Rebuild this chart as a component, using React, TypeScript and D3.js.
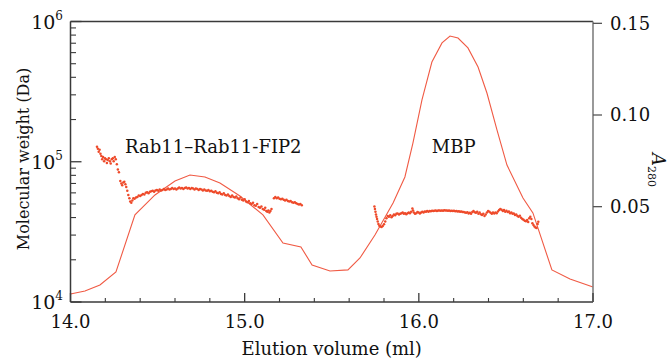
import * as d3 from "d3";

// elution volume (ml) / absorbance at 280 nm
const a280Volume = [14.0, 14.083, 14.169, 14.261, 14.37, 14.485, 14.6, 14.686, 14.772, 14.858, 14.973, 15.105, 15.22, 15.323, 15.387, 15.49, 15.593, 15.662, 15.748, 15.852, 15.92, 15.966, 16.018, 16.075, 16.133, 16.179, 16.225, 16.282, 16.34, 16.391, 16.449, 16.506, 16.598, 16.655, 16.764, 16.868, 17.0];
const a280Value = [0.0024, 0.004, 0.0073, 0.0144, 0.0455, 0.0564, 0.064, 0.0673, 0.0662, 0.0629, 0.0558, 0.0455, 0.0302, 0.028, 0.0182, 0.0149, 0.0155, 0.022, 0.0345, 0.052, 0.0662, 0.0847, 0.1082, 0.1289, 0.1393, 0.1431, 0.142, 0.1366, 0.1262, 0.112, 0.0918, 0.0727, 0.0547, 0.0466, 0.0155, 0.0105, 0.0062];

// [ml, kDa] molar mass points
const rabDots = [
  [14.152, 128], [14.157, 124], [14.162, 118], [14.167, 122], [14.172, 114], [14.177, 110], [14.182, 104], [14.187, 108], [14.193, 101], [14.198, 106], [14.203, 104], [14.209, 98], [14.214, 103], [14.22, 106], [14.226, 101], [14.231, 97], [14.237, 104], [14.243, 106], [14.248, 101], [14.254, 108], [14.26, 104], [14.266, 96], [14.272, 88], [14.278, 84],
  [14.286, 73], [14.292, 70], [14.297, 68], [14.303, 71], [14.309, 72], [14.315, 69], [14.32, 66], [14.326, 62], [14.332, 58], [14.338, 55], [14.343, 52], [14.349, 51], [14.355, 53], [14.361, 55],
  [14.368, 54.5], [14.376, 55.5], [14.384, 56], [14.392, 57.5], [14.4, 57], [14.408, 58], [14.416, 59], [14.424, 58.5], [14.432, 60], [14.44, 60.5], [14.448, 59.5], [14.456, 61], [14.464, 61.5], [14.472, 62], [14.48, 61], [14.488, 62.5], [14.496, 63], [14.504, 62], [14.512, 63.5], [14.52, 62.5], [14.528, 63], [14.536, 64], [14.544, 63], [14.552, 63.5], [14.56, 64.5], [14.568, 63.5], [14.576, 64], [14.584, 65], [14.592, 64], [14.6, 64.5], [14.608, 63.5], [14.616, 64.5], [14.624, 65.5], [14.632, 64.5], [14.64, 65], [14.648, 64], [14.656, 65], [14.664, 65.5], [14.672, 64.5], [14.68, 65], [14.688, 64], [14.696, 65], [14.704, 64.5], [14.712, 63.5], [14.72, 64.5], [14.728, 64], [14.736, 63], [14.744, 64], [14.752, 63.5], [14.76, 62.5], [14.768, 63.5], [14.776, 62.5], [14.784, 62], [14.792, 63], [14.8, 61.5], [14.808, 62], [14.816, 61], [14.824, 60.5], [14.832, 61.5], [14.84, 60], [14.848, 59.5], [14.856, 60.5], [14.864, 59], [14.872, 58.5], [14.88, 59.5], [14.888, 58], [14.896, 57.5], [14.904, 58.5], [14.912, 57], [14.92, 56], [14.928, 57.5], [14.936, 56], [14.944, 55.5], [14.952, 56.5], [14.96, 55], [14.968, 54], [14.976, 55.5], [14.984, 53.5], [14.992, 53], [15.0, 54], [15.008, 52], [15.016, 51.5], [15.024, 52.5], [15.032, 50.5], [15.04, 50], [15.048, 51], [15.056, 49], [15.064, 48.5], [15.072, 50], [15.08, 47.5], [15.088, 47], [15.096, 48], [15.104, 46], [15.112, 45.5], [15.118, 47], [15.124, 44.5], [15.13, 44], [15.136, 45], [15.142, 43.5], [15.148, 44.5], [15.154, 46],
  [15.168, 55], [15.176, 56], [15.184, 55], [15.192, 55.5], [15.2, 54.5], [15.208, 54], [15.216, 54.5], [15.224, 53.5], [15.232, 53], [15.24, 53.5], [15.248, 52.5], [15.256, 52], [15.264, 52.5], [15.272, 51.5], [15.28, 51], [15.288, 51.5], [15.296, 50.5], [15.304, 50], [15.312, 49.5], [15.32, 50], [15.328, 49],
];
const mbpDots = [
  [15.745, 48], [15.748, 46], [15.751, 44], [15.754, 42], [15.757, 40.5], [15.76, 39], [15.764, 37.5], [15.768, 36], [15.773, 35], [15.779, 34.5], [15.786, 34.3], [15.793, 34.8], [15.8, 35.8], [15.807, 37.5], [15.814, 39.5], [15.821, 41], [15.828, 40.5], [15.836, 41.5], [15.843, 40.2], [15.85, 41], [15.857, 42], [15.864, 41.5], [15.871, 42.5], [15.878, 42.8], [15.886, 42], [15.893, 42.5], [15.9, 43], [15.907, 43.5], [15.914, 42.5], [15.921, 43], [15.928, 42.2], [15.935, 43], [15.942, 43.5], [15.949, 43], [15.956, 44], [15.963, 46.5], [15.967, 45], [15.971, 43.5], [15.978, 42.5], [15.985, 43], [15.992, 43.8], [15.999, 43.5],
  [16.006, 42.8], [16.013, 43.5], [16.02, 44], [16.027, 43.5], [16.034, 44.2], [16.041, 44], [16.048, 44.5], [16.055, 44], [16.062, 44.6], [16.069, 44.3], [16.076, 44.8], [16.083, 44.5], [16.09, 44.8], [16.097, 45], [16.104, 44.6], [16.111, 44.9], [16.118, 45], [16.125, 44.7], [16.132, 45], [16.139, 44.8], [16.146, 45.1], [16.153, 44.9], [16.16, 45], [16.167, 44.7], [16.174, 44.9], [16.181, 44.6], [16.188, 44.8], [16.195, 44.5], [16.202, 44.7], [16.209, 44.4], [16.216, 44.6], [16.223, 44.2], [16.23, 44.4], [16.237, 44], [16.244, 44.2], [16.251, 43.8], [16.258, 43.9], [16.265, 43.5], [16.272, 43.2], [16.279, 43.6], [16.286, 42.8], [16.293, 43.2], [16.3, 42.5],
  [16.307, 43.8], [16.314, 44.5], [16.321, 43.6], [16.328, 43.3], [16.335, 44], [16.342, 42.5], [16.349, 43.5], [16.356, 42.2], [16.363, 41.8], [16.37, 42.5], [16.377, 41], [16.384, 42], [16.391, 43.5], [16.398, 44.5], [16.405, 44], [16.412, 43.2], [16.419, 42.5], [16.426, 43.5], [16.433, 42.8], [16.44, 43.5], [16.447, 43], [16.454, 44.2], [16.461, 45.2], [16.468, 46], [16.475, 45.5], [16.482, 44.6], [16.489, 45.2], [16.496, 44], [16.503, 44.8], [16.51, 43.8], [16.517, 44.2], [16.524, 43], [16.531, 43.5], [16.538, 42.5], [16.545, 42.8], [16.552, 41.8], [16.559, 42], [16.566, 41], [16.573, 40.6], [16.58, 41.2], [16.587, 39.8], [16.594, 39], [16.601, 38.6], [16.608, 38], [16.615, 37.6], [16.622, 38.4], [16.628, 37.2], [16.634, 39.5], [16.64, 40.5], [16.646, 39], [16.652, 36.5], [16.658, 35.4], [16.664, 34.5], [16.67, 34], [16.676, 33.7], [16.682, 36], [16.686, 37.4],
];

const xMajor = [14, 15, 16, 17];
const xMinor = [14.2, 14.4, 14.6, 14.8, 15.2, 15.4, 15.6, 15.8, 16.2, 16.4, 16.6, 16.8];
const mwMajor = [4, 5, 6]; // powers of ten
const aTicks = [0.05, 0.1, 0.15];
const peakLabels = [
  { text: "Rab11–Rab11-FIP2", v: 14.82 },
  { text: "MBP", v: 16.2 },
];

const font = "DejaVu Serif, serif";
const lineColor = "#f05a44";
const dotColor = "#ee4a2a";
const axisColor = "#3a3a3a";

const App = () => {
  const left = 70.5;
  const right = 593;
  const top = 21.5;
  const bottom = 302;

  const x = d3.scaleLinear().domain([14, 17]).range([left, right]);
  const yMw = d3.scaleLog().domain([1e4, 1e6]).range([bottom, top]);
  const yA = d3.scaleLinear().domain([-0.002, 0.151]).range([bottom, top]);

  const a280 = a280Volume.map((v, i) => [v, a280Value[i]]);
  const line = d3
    .line()
    .x((d) => x(d[0]))
    .y((d) => yA(d[1]))(a280);

  const mwMinor = yMw.ticks().filter((t) => !mwMajor.includes(Math.round(Math.log10(t) * 1000) / 1000));
  const txt = { fontFamily: font, fill: "#111" };

  return (
    <svg width={670} height={360} style={{ position: "absolute", left: 0, top: 0, background: "#fff", fontFamily: font }}>
      <path d={line} fill="none" stroke={lineColor} strokeWidth={1.1} />
      {rabDots.concat(mbpDots).map((d, i) => (
        <circle key={i} cx={x(d[0])} cy={yMw(d[1] * 1000)} r={1.25} fill={dotColor} />
      ))}

      {/* frame */}
      <line x1={left} x2={right} y1={top} y2={top} stroke={axisColor} strokeWidth={1.5} />
      <line x1={left} x2={left} y1={top} y2={bottom} stroke={axisColor} strokeWidth={1.5} />
      <line x1={left} x2={right} y1={bottom} y2={bottom} stroke={axisColor} strokeWidth={1.5} />
      <line x1={right} x2={right} y1={top} y2={bottom} stroke="#808080" strokeWidth={1.6} />

      {/* x axis */}
      {xMajor.map((t) => (
        <g key={t}>
          <line x1={x(t)} x2={x(t)} y1={bottom} y2={bottom - 9} stroke={axisColor} strokeWidth={1.3} />
          <text x={x(t)} y={328} textAnchor="middle" fontSize={18} style={txt}>
            {t.toFixed(1)}
          </text>
        </g>
      ))}
      {xMinor.map((t) => (
        <line key={t} x1={x(t)} x2={x(t)} y1={bottom} y2={bottom - 4} stroke={axisColor} strokeWidth={1.1} />
      ))}
      <text x={(left + right) / 2} y={355} textAnchor="middle" fontSize={18} style={txt}>
        Elution volume (ml)
      </text>

      {/* left log axis */}
      {mwMajor.map((p) => (
        <g key={p}>
          <line x1={left} x2={left + 11} y1={yMw(10 ** p)} y2={yMw(10 ** p)} stroke={axisColor} strokeWidth={1.3} />
          <text x={63} y={yMw(10 ** p) + 7} textAnchor="end" fontSize={19} style={txt}>
            10
            <tspan fontSize={12} dy={-9}>
              {p}
            </tspan>
          </text>
        </g>
      ))}
      {mwMinor.map((t) => (
        <line key={t} x1={left} x2={left + 5.5} y1={yMw(t)} y2={yMw(t)} stroke={axisColor} strokeWidth={1.1} />
      ))}
      <text transform={`translate(28.5,159) rotate(-90)`} textAnchor="middle" fontSize={16} style={txt}>
        Molecular weight (Da)
      </text>

      {/* right A280 axis */}
      {aTicks.map((t) => (
        <g key={t}>
          <line x1={right} x2={right + 9} y1={yA(t)} y2={yA(t)} stroke="#555" strokeWidth={1.3} />
          <text x={610} y={yA(t)} dy="0.35em" fontSize={18} style={txt}>
            {t.toFixed(2)}
          </text>
        </g>
      ))}
      <text transform={`translate(652,170) rotate(90)`} textAnchor="middle" fontSize={18} style={txt}>
        <tspan fontStyle="italic">A</tspan>
        <tspan fontSize={11} dy={4}>
          280
        </tspan>
      </text>

      {peakLabels.map((l) => (
        <text key={l.text} x={x(l.v)} y={153} textAnchor="middle" fontSize={18} style={txt}>
          {l.text}
        </text>
      ))}
    </svg>
  );
};

export default App;
